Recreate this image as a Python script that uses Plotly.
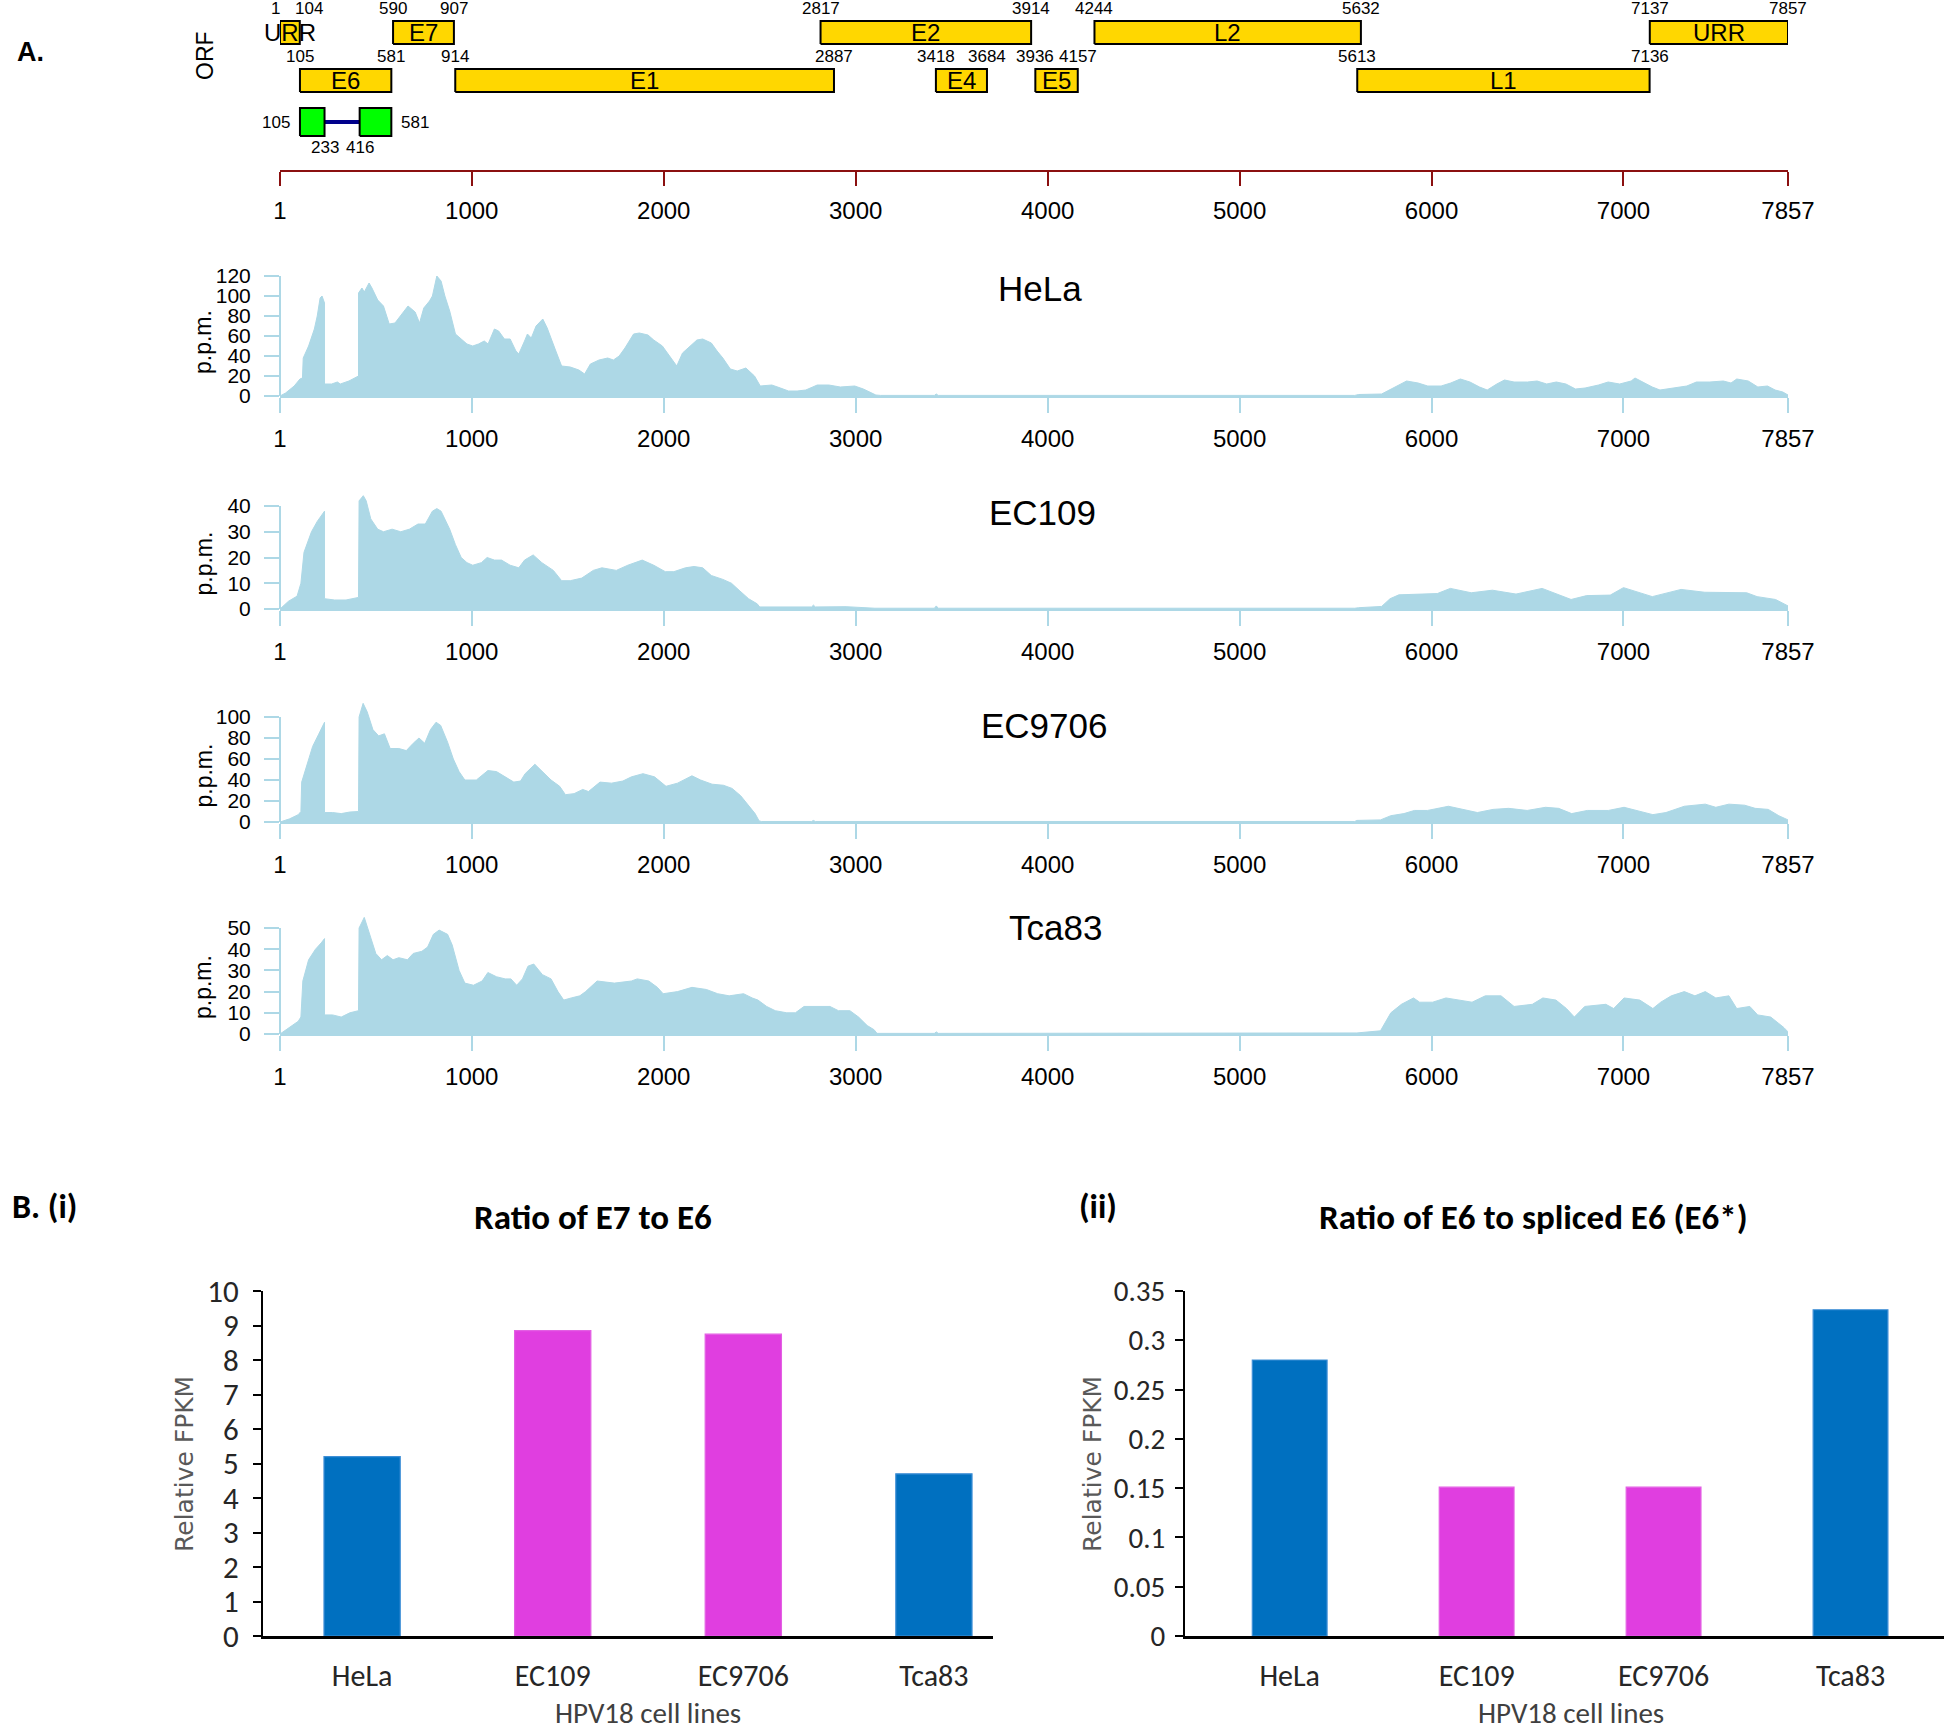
import plotly.graph_objects as go

W, H = 1946, 1730


def px(p):
    return p / W


def py(p):
    return 1 - p / H


# ---------------- data ----------------
GENOME_TICKS = [1, 1000, 2000, 3000, 4000, 5000, 6000, 7000, 7857]

ORF_ROW1_NAMES = ["URR", "E7", "E2", "L2", "URR"]
ORF_ROW1_START = [1, 590, 2817, 4244, 7137]
ORF_ROW1_END = [104, 907, 3914, 5632, 7857]

ORF_ROW2_NAMES = ["E6", "E1", "E4", "E5", "L1"]
ORF_ROW2_START = [105, 914, 3418, 3936, 5613]
ORF_ROW2_END = [581, 2887, 3684, 4157, 7136]

SPLICED_E6_START = [105, 416]
SPLICED_E6_END = [233, 581]

HELA_COVERAGE = [(1, 0), (30, 3), (75, 10), (105, 17), (118, 18), (122, 38), (150, 50), (180, 67), (195, 80),
                 (210, 98), (220, 100), (230, 93), (233, 93), (233, 12), (270, 12), (300, 14), (315, 12), (360, 15),
                 (390, 18), (410, 20), (410, 103), (428, 108), (440, 104), (465, 113), (480, 108), (510, 96),
                 (540, 90), (570, 72), (600, 73), (645, 84), (668, 90), (705, 84), (728, 73), (750, 88), (780, 95),
                 (795, 100), (818, 120), (840, 115), (860, 100), (885, 85), (915, 62), (945, 57), (975, 52),
                 (1005, 50), (1035, 52), (1065, 55), (1085, 52), (1118, 67), (1140, 65), (1170, 57), (1200, 57),
                 (1230, 45), (1245, 42), (1275, 55), (1290, 62), (1310, 58), (1335, 70), (1370, 77), (1393, 68),
                 (1438, 45), (1468, 30), (1513, 29), (1558, 26), (1588, 22), (1618, 32), (1663, 36), (1708, 38),
                 (1738, 36), (1768, 40), (1798, 48), (1843, 62), (1873, 63), (1918, 61), (1948, 56), (1993, 50),
                 (2038, 38), (2068, 30), (2098, 43), (2128, 48), (2173, 56), (2203, 57), (2248, 53), (2278, 45),
                 (2308, 38), (2347, 27), (2383, 25), (2428, 28), (2473, 20), (2503, 10), (2563, 11), (2608, 8),
                 (2650, 5), (2695, 5), (2740, 6), (2800, 11), (2860, 11), (2920, 9), (2995, 10), (3040, 7),
                 (3085, 3), (3105, 1), (3130, 0.6), (3410, 0.6), (3420, 2), (3430, 0.6), (5600, 0.6), (5620, 1.5),
                 (5740, 2), (5800, 8), (5870, 15), (5930, 13), (5980, 10), (6050, 10), (6100, 13), (6150, 17),
                 (6200, 14), (6250, 9), (6290, 6), (6340, 12), (6380, 16), (6430, 14), (6500, 14), (6550, 15),
                 (6600, 12), (6650, 14), (6700, 12), (6750, 7), (6800, 8), (6870, 11), (6920, 14), (6980, 12),
                 (7040, 15), (7060, 18), (7100, 14), (7150, 9), (7190, 6), (7250, 8), (7330, 10), (7380, 14),
                 (7450, 14), (7520, 15), (7560, 13), (7590, 17), (7650, 15), (7700, 9), (7750, 10), (7790, 6),
                 (7830, 4), (7857, 1)]

EC109_COVERAGE = [(1, 0), (45, 3), (90, 5), (110, 10), (126, 22), (165, 30), (195, 34), (225, 37), (233, 38),
                  (233, 4), (285, 3.5), (345, 3.5), (375, 4), (410, 4.5), (413, 42), (435, 44), (450, 42),
                  (474, 35), (510, 31), (540, 30), (585, 31), (630, 30), (675, 31), (720, 33), (758, 33),
                  (795, 38), (818, 39), (840, 38), (885, 31), (915, 25), (945, 20), (975, 18), (1005, 17),
                  (1050, 18), (1080, 20), (1118, 19), (1155, 19), (1200, 17), (1245, 16), (1275, 19), (1320, 21),
                  (1365, 18), (1425, 15), (1468, 11), (1513, 11), (1573, 12), (1633, 15), (1678, 16), (1753, 15),
                  (1813, 17), (1888, 19), (1948, 17), (2008, 14.5), (2053, 14.5), (2113, 16), (2158, 16.5),
                  (2203, 16), (2248, 13), (2308, 11.5), (2353, 10), (2397, 7), (2442, 4), (2487, 2), (2500, 0.8),
                  (2770, 0.8), (2780, 1.5), (2790, 0.8), (2950, 0.9), (3100, 0.3), (3410, 0.3), (3420, 1.2),
                  (3430, 0.3), (5600, 0.3), (5620, 0.5), (5740, 1), (5784, 4), (5830, 5.5), (5907, 5.7),
                  (6030, 6), (6098, 8), (6207, 6.3), (6317, 7.3), (6440, 5.8), (6576, 8), (6727, 3.7),
                  (6808, 5.2), (6931, 5.4), (7000, 8.3), (7150, 4.8), (7300, 7.6), (7423, 6.5), (7642, 6.3),
                  (7696, 4.8), (7792, 3.7), (7857, 1.2)]

EC9706_COVERAGE = [(1, 0), (51, 3), (96, 7), (110, 10), (114, 38), (141, 55), (171, 72), (201, 83), (230, 95),
                   (233, 95), (233, 9), (275, 9), (320, 8), (365, 9.5), (410, 10), (413, 100), (434, 113),
                   (455, 105), (485, 88), (515, 82), (545, 84), (575, 70), (620, 70), (659, 68), (695, 75),
                   (725, 80), (755, 75), (785, 88), (814, 95), (838, 92), (874, 76), (904, 60), (934, 48),
                   (964, 40), (1024, 40), (1084, 49), (1129, 48), (1174, 43), (1219, 38), (1254, 39), (1278, 46),
                   (1329, 55), (1368, 48), (1413, 40), (1458, 34), (1488, 26), (1533, 27), (1578, 31), (1608, 29),
                   (1668, 38), (1728, 37), (1787, 39), (1832, 43), (1892, 46), (1952, 43), (2012, 34), (2072, 37),
                   (2147, 44), (2192, 40), (2252, 36), (2311, 35), (2356, 32), (2401, 25), (2446, 15), (2476, 8),
                   (2497, 1), (2510, 0.5), (2770, 0.5), (2780, 1.5), (2790, 0.5), (3410, 0.5), (3420, 1),
                   (3430, 0.5), (5600, 0.5), (5611, 1.5), (5734, 2), (5788, 6), (5856, 8), (5911, 11), (5979, 11),
                   (6088, 15), (6170, 12), (6239, 9), (6320, 12), (6402, 13), (6498, 11), (6594, 14), (6662, 13),
                   (6730, 8), (6812, 11), (6921, 11), (7003, 14), (7085, 10), (7153, 7), (7221, 9), (7317, 15),
                   (7426, 17), (7481, 14), (7549, 17), (7631, 16), (7686, 13), (7754, 12), (7809, 6), (7857, 2)]

TCA83_COVERAGE = [(1, 0), (51, 3), (96, 6), (110, 8), (120, 25), (150, 35), (186, 40), (216, 43), (233, 45),
                  (233, 9), (275, 9), (320, 8), (365, 10), (410, 11), (413, 50), (440, 55), (470, 47), (500, 38),
                  (530, 35), (560, 37), (590, 35), (620, 36), (665, 35), (695, 38), (740, 39), (770, 41),
                  (800, 47), (830, 49), (874, 47), (898, 42), (934, 30), (964, 24), (1009, 23), (1054, 25),
                  (1084, 29), (1129, 27), (1174, 26), (1204, 26), (1234, 23), (1264, 26), (1293, 32), (1323, 33),
                  (1368, 28), (1413, 26), (1449, 20), (1479, 16), (1518, 17), (1563, 18), (1593, 20), (1653, 25),
                  (1743, 24), (1832, 25), (1862, 26), (1922, 25), (1967, 22), (1997, 19), (2072, 20), (2147, 22),
                  (2222, 21), (2281, 19), (2341, 18), (2416, 19), (2461, 17), (2491, 16), (2536, 13), (2581, 11),
                  (2641, 10), (2686, 10), (2731, 13), (2791, 13), (2866, 13), (2910, 11), (2970, 11), (3015, 8),
                  (3060, 4), (3096, 2), (3111, 0.3), (3410, 0.3), (3420, 1), (3430, 0.3), (5600, 0.3),
                  (5611, 0.5), (5734, 1.5), (5788, 10), (5843, 14), (5906, 17), (5938, 15), (6006, 15),
                  (6075, 17), (6143, 16), (6211, 15), (6280, 18), (6362, 18), (6430, 13), (6525, 14), (6580, 17),
                  (6648, 16), (6703, 12), (6744, 8), (6798, 13), (6908, 14), (6949, 12), (7003, 17), (7085, 16),
                  (7153, 12), (7194, 15), (7249, 18), (7317, 20), (7372, 18), (7426, 20), (7481, 17), (7549, 18),
                  (7590, 12), (7658, 13), (7699, 9), (7767, 8), (7836, 3), (7857, 1)]

TRACK_NAMES = ["HeLa", "EC109", "EC9706", "Tca83"]
TRACK_DATA = [HELA_COVERAGE, EC109_COVERAGE, EC9706_COVERAGE, TCA83_COVERAGE]
TRACK_YTICKS = [[0, 20, 40, 60, 80, 100, 120], [0, 10, 20, 30, 40], [0, 20, 40, 60, 80, 100],
                [0, 10, 20, 30, 40, 50]]

CELL_LINES = ["HeLa", "EC109", "EC9706", "Tca83"]
RATIO_E7_E6 = [5.2, 8.85, 8.75, 4.7]
RATIO_E6_E6S = [0.28, 0.151, 0.151, 0.331]

# ---------------- style ----------------
RFONT = "Liberation Sans, Arial, sans-serif"
XFONT = "Carlito, Lato, sans-serif"
LB = "#ADD8E6"
GOLD = "#FFD700"
DARKRED = "#8B1010"
BLUE = "#0070C0"
MAGENTA = "#E03EE0"
BAR_COLORS = [BLUE, MAGENTA, MAGENTA, BLUE]
BAR_EDGES = ["#3F8FD6", "#E35FE3", "#E35FE3", "#3F8FD6"]

GX0, GX1 = 280, 1788  # pixel span of genome axis

ROW1_Y = (126, 149)
ROW2_Y = (78, 101)
SPL_Y = (34, 62)
ROW1_LABEL_Y = 162
ROW2_LABEL_Y = 114

TRACK_GEOM = [
    dict(base=396, toptick=276, domtop=266, title=(1040, 289)),
    dict(base=609, toptick=506, domtop=490, title=(1042, 512)),
    dict(base=822, toptick=717, domtop=695, title=(1044, 726)),
    dict(base=1034, toptick=928, domtop=908, title=(1055, 928)),
]

fig = go.Figure()
annotations = []
shapes = []


def paper_text(xp, yp, text, size, family, color="black", xanchor="center", angle=0):
    annotations.append(dict(x=px(xp), y=py(yp), xref="paper", yref="paper", text=text, showarrow=False,
                            xanchor=xanchor, yanchor="middle", textangle=angle,
                            font=dict(family=family, size=size, color=color)))


def box(s, e, y0, y1, fill):
    fig.add_trace(go.Scatter(x=[s, e, e, s, s], y=[y0, y0, y1, y1, y0], mode="lines", fill="toself",
                             fillcolor=fill, line=dict(color="black", width=2), xaxis="x", yaxis="y",
                             hoverinfo="skip", showlegend=False))


def label(x, y, text, size=17, xanchor="center", xshift=0):
    annotations.append(dict(x=x, y=y, xref="x", yref="y", text=text, showarrow=False, xanchor=xanchor,
                            yanchor="middle", xshift=xshift, font=dict(family=RFONT, size=size, color="black")))


NUDGE = {(0, "start"): -5, (0, "end"): 9}

for i, (n, s, e) in enumerate(zip(ORF_ROW1_NAMES, ORF_ROW1_START, ORF_ROW1_END)):
    box(s, e, ROW1_Y[0], ROW1_Y[1], GOLD)
    label((s + e) / 2, sum(ROW1_Y) / 2, n, size=24)
    label(s, ROW1_LABEL_Y, str(s), xshift=NUDGE.get((i, "start"), 0))
    label(e, ROW1_LABEL_Y, str(e), xshift=NUDGE.get((i, "end"), 0))

for n, s, e in zip(ORF_ROW2_NAMES, ORF_ROW2_START, ORF_ROW2_END):
    box(s, e, ROW2_Y[0], ROW2_Y[1], GOLD)
    label((s + e) / 2, sum(ROW2_Y) / 2, n, size=24)
    label(s, ROW2_LABEL_Y, str(s))
    label(e, ROW2_LABEL_Y, str(e))

spl_mid = sum(SPL_Y) / 2
fig.add_trace(go.Scatter(x=[SPLICED_E6_END[0], SPLICED_E6_START[1]], y=[spl_mid, spl_mid], mode="lines",
                         line=dict(color="#00008B", width=4), xaxis="x", yaxis="y", hoverinfo="skip",
                         showlegend=False))
for s, e in zip(SPLICED_E6_START, SPLICED_E6_END):
    box(s, e, SPL_Y[0], SPL_Y[1], "#00FF00")
label(SPLICED_E6_START[0], spl_mid, str(SPLICED_E6_START[0]), xanchor="right", xshift=-8)
label(SPLICED_E6_END[-1], spl_mid, str(SPLICED_E6_END[-1]), xanchor="left", xshift=8)
label(SPLICED_E6_END[0], 23, str(SPLICED_E6_END[0]))
label(SPLICED_E6_START[1], 23, str(SPLICED_E6_START[1]))

layout_axes = {}
layout_axes["xaxis"] = dict(domain=[px(GX0), px(GX1)], range=[1, 7857], anchor="y", showline=True,
                            linecolor=DARKRED, linewidth=2, ticks="outside", ticklen=14, tickwidth=2,
                            tickcolor=DARKRED, tickvals=GENOME_TICKS, ticktext=[str(t) for t in GENOME_TICKS],
                            tickfont=dict(family=RFONT, size=24, color="black"), showgrid=False, zeroline=False,
                            ticklabelstandoff=4, automargin=False)
layout_axes["yaxis"] = dict(domain=[py(170), py(0)], range=[0, 170], anchor="x", visible=False, automargin=False)

paper_text(15, 52, "<b>A.</b>", 27, RFONT, xanchor="left")
paper_text(205, 56, "ORF", 23, RFONT, angle=-90)

for k, (name, data, yt, g) in enumerate(zip(TRACK_NAMES, TRACK_DATA, TRACK_YTICKS, TRACK_GEOM)):
    n = k + 2
    xs = [p for p, v in data]
    ys = [v for p, v in data]
    fig.add_trace(go.Scatter(x=xs, y=ys, mode="lines", fill="tozeroy", fillcolor=LB,
                             line=dict(color=LB, width=1), xaxis=f"x{n}", yaxis=f"y{n}", hoverinfo="skip",
                             showlegend=False))
    top = yt[-1]
    rmax = top * (g["base"] - g["domtop"]) / (g["base"] - g["toptick"])
    layout_axes[f"xaxis{n}"] = dict(domain=[px(GX0), px(GX1)], range=[1, 7857], anchor=f"y{n}", showline=True,
                                    linecolor=LB, linewidth=2, ticks="outside", ticklen=15, tickwidth=2,
                                    tickcolor=LB, tickvals=GENOME_TICKS,
                                    ticktext=[str(t) for t in GENOME_TICKS],
                                    tickfont=dict(family=RFONT, size=24, color="black"), showgrid=False,
                                    zeroline=False, ticklabelstandoff=5, automargin=False)
    layout_axes[f"yaxis{n}"] = dict(domain=[py(g["base"]), py(g["domtop"])], range=[0, rmax], anchor=f"x{n}",
                                    showline=False, ticks="outside", ticklen=15, tickwidth=2, tickcolor=LB,
                                    tickvals=yt, ticktext=[str(t) for t in yt],
                                    tickfont=dict(family=RFONT, size=21, color="black"), showgrid=False,
                                    zeroline=False, ticklabelstandoff=9, automargin=False)
    shapes.append(dict(type="line", xref=f"x{n} domain", yref=f"y{n}", x0=0, x1=0, y0=0, y1=top,
                       line=dict(color=LB, width=2)))
    paper_text(g["title"][0], g["title"][1], name, 35, RFONT)
    paper_text(203, (g["base"] + g["toptick"]) / 2 + 6, "p.p.m.", 23, RFONT, angle=-90)

BAR_GEOM = [
    dict(dom=(263, 993), rng=[-0.52, 3.31], ymax=10, dtick=1, title="Ratio of E7 to E6", tx=593,
         ylab_x=184, xlab_x=648, standoff=8, tsize=31),
    dict(dom=(1185, 1944), rng=[-0.56, 3.5], ymax=0.35, dtick=0.05, title="Ratio of E6 to spliced E6 (E6*)",
         tx=1533, ylab_x=1092, xlab_x=1571, standoff=4, tsize=29),
]
for k, (vals, g) in enumerate(zip([RATIO_E7_E6, RATIO_E6_E6S], BAR_GEOM)):
    n = k + 6
    fig.add_trace(go.Bar(x=CELL_LINES, y=vals, marker=dict(color=BAR_COLORS, line=dict(width=1.2, color=BAR_EDGES)),
                         width=0.4, xaxis=f"x{n}", yaxis=f"y{n}", hoverinfo="skip", showlegend=False))
    layout_axes[f"xaxis{n}"] = dict(domain=[px(g["dom"][0]), px(g["dom"][1])], range=g["rng"], anchor=f"y{n}",
                                    type="category", showline=True, linecolor="black", linewidth=2.5,
                                    ticks="", tickfont=dict(family=XFONT, size=30, color="#262626"),
                                    showgrid=False, zeroline=False, ticklabelstandoff=11, automargin=False)
    layout_axes[f"yaxis{n}"] = dict(domain=[py(1636), py(1291)], range=[0, g["ymax"]], dtick=g["dtick"],
                                    anchor=f"x{n}", showline=True, linecolor="black", linewidth=2,
                                    ticks="outside", ticklen=8, tickwidth=1.5, tickcolor="black",
                                    tickfont=dict(family=XFONT, size=g["tsize"], color="#262626"), showgrid=False,
                                    zeroline=False, ticklabelstandoff=g["standoff"], automargin=False)
    paper_text(g["tx"], 1217, f"<b>{g['title']}</b>", 35, XFONT)
    paper_text(g["ylab_x"], 1464, "Relative FPKM", 25, "DejaVu Sans, Verdana, sans-serif", color="#595959",
               angle=-90)
    paper_text(g["xlab_x"], 1713, "HPV18 cell lines", 29, XFONT, color="#404040")

paper_text(10, 1206, "<b>B. (i)</b>", 34, XFONT, xanchor="left")
paper_text(1077, 1206, "<b>(ii)</b>", 34, XFONT, xanchor="left")

fig.update_layout(width=W, height=H, margin=dict(l=0, r=0, t=0, b=0, pad=0), paper_bgcolor="white",
                  plot_bgcolor="rgba(0,0,0,0)", showlegend=False, annotations=annotations, shapes=shapes,
                  bargap=0.6, **layout_axes)

fig.write_html("out.html", config={"responsive": False, "displayModeBar": False},
               post_script="document.body.style.margin='0px';document.body.style.padding='0px';"
                           "document.documentElement.style.overflow='hidden';")
